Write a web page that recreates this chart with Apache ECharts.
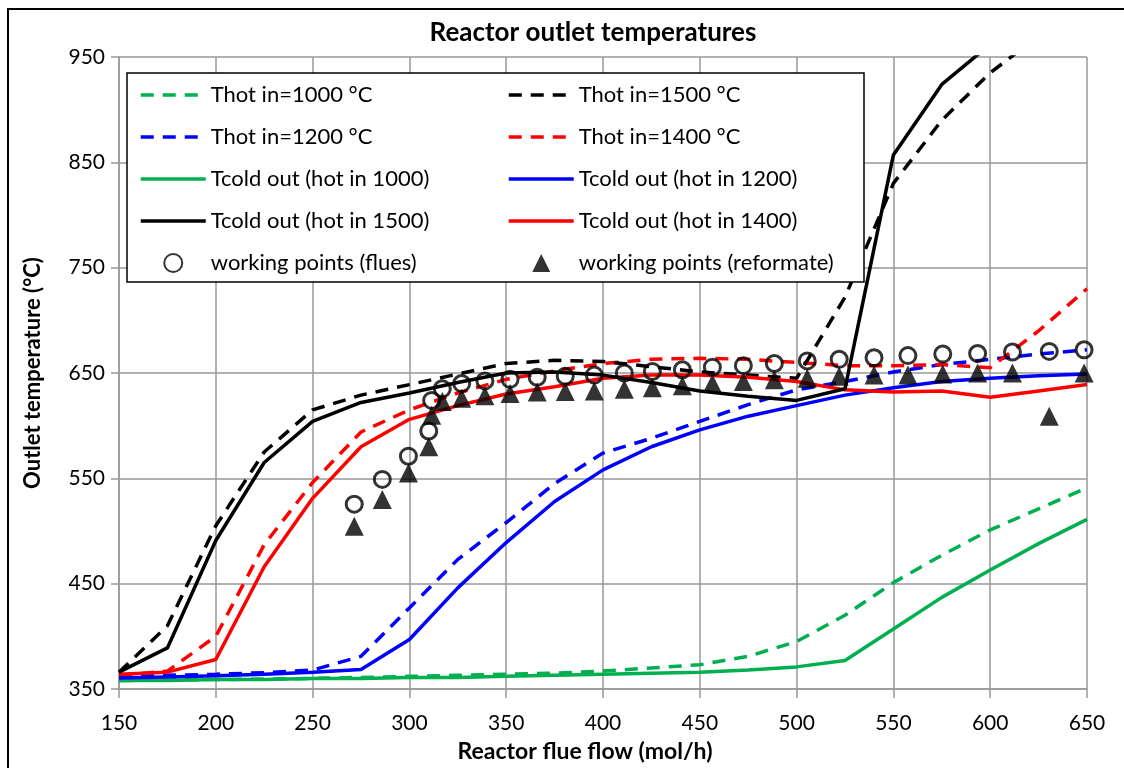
<!DOCTYPE html>
<html>
<head>
<meta charset="utf-8">
<script src="https://cdn.jsdelivr.net/npm/echarts@6/dist/echarts.min.js"></script>
<style>
html, body { margin: 0; padding: 0; background: #fff; }
#main { width: 1124px; height: 768px; }
</style>
</head>
<body>
<div id="main"></div>
<script>
// flue flow (mol/h) for the simulated curves
var flows = [150, 175, 200, 225, 250, 275, 300, 325, 350, 375, 400, 425, 450, 475, 500, 525, 550, 575, 600, 625, 650];

// Thot in (dashed)
var thot1000 = [358, 358.5, 359, 359.5, 360, 361, 362, 363, 364, 365, 367, 370, 373, 381, 395, 420, 451, 477, 501, 521, 541];
var thot1200 = [362, 363, 364, 365.5, 368, 381, 427, 473, 508, 545, 574, 588, 604, 620, 634, 642, 651, 658, 663, 668, 672];
var thot1400 = [363, 367, 400, 487, 546, 594, 615, 631, 644, 652, 659, 663, 664, 663, 660, 657, 657, 658, 655, 690, 730];
var thot1500 = [366, 410, 505, 575, 615, 629, 639, 649, 659, 662, 661, 656, 651, 648, 645, 722, 830, 890, 935, 970, null];

// Tcold out (solid)
var tcold1000 = [358, 358, 359, 359, 360, 360, 361, 361, 362, 363, 364, 365, 366, 368, 371, 377, 407, 437, 463, 488, 511];
var tcold1200 = [360.5, 361.5, 362.5, 364, 366, 368.5, 397, 446, 489, 528, 558, 580, 596, 609, 619, 629, 636, 642, 645, 647.5, 649];
var tcold1400 = [364, 366, 378, 466, 531, 580, 606, 619, 630, 637, 645, 648, 648, 646, 642, 634, 632, 633, 627, 633, 639];
var tcold1500 = [366, 389, 491, 565, 604, 622, 631, 641, 650, 651, 648, 641, 633, 628, 624, 635, 857, 924, 962, null, null];

// working points
var wpFlow = [271.5, 286, 299.5, 310, 311.5, 317, 327, 339, 352, 366, 380.5, 395.5, 411, 425.5, 441, 456.5, 472.5, 488.5, 505.5, 522, 540, 557.5, 575.5, 593.5, 611.5, 630.5, 648.5];
var wpFlues = [525.5, 549, 571, 595, 624, 635, 640, 642.5, 644, 646, 647, 648, 650, 651.5, 653, 655.5, 657, 659, 661.5, 663, 664.5, 666.5, 668, 668.5, 670, 670.5, 672];
var wpReformate = [504.5, 530, 555, 580, 610, 623, 626, 628.5, 630.5, 632, 632.5, 633, 634.5, 636, 638, 640, 642, 643.5, 645, 647, 648, 648, 649, 650, 650, 609, 650];

var GREEN = '#00B050', BLUE = '#0000FF', RED = '#FF0000', BLACK = '#000000';
var FONT = 'Lato';
var TRIANGLE = 'path://M0,-1L1,1L-1,1Z';

function pairs(xs, ys) {
    return xs.map(function (x, i) { return [x, ys[i]]; });
}

function lineSeries(name, ys, color, dashed) {
    return {
        name: name,
        type: 'line',
        data: pairs(flows, ys),
        symbol: 'none',
        connectNulls: false,
        clip: true,
        color: color,
        lineStyle: { color: color, width: 3.5, type: dashed ? [13, 9] : 'solid' },
        emphasis: { disabled: true },
        z: 2
    };
}

// legend entries: lines get no marker in the icon
function lineEntry(name) {
    return { name: name, itemStyle: { opacity: 0 } };
}

var chart = echarts.init(document.getElementById('main'));

var legendText = { fontFamily: FONT, fontSize: 22, color: '#000', lineHeight: 22 };

var option = {
    backgroundColor: '#fff',
    animation: false,
    title: {
        text: 'Reactor outlet temperatures',
        left: 588,
        textAlign: 'center',
        top: 15,
        textStyle: { fontFamily: FONT, fontWeight: 'bold', fontSize: 26, color: '#000' }
    },
    grid: { left: 119, right: 37, top: 57, bottom: 78.5 },
    xAxis: {
        type: 'value',
        min: 150, max: 650, interval: 50,
        name: 'Reactor flue flow (mol/h)',
        nameLocation: 'middle',
        nameGap: 51,
        nameTextStyle: { fontFamily: FONT, fontWeight: 'bold', fontSize: 23, color: '#000', padding: [0, 36, 0, 0] },
        axisLine: { show: true, lineStyle: { color: '#999', width: 1.5 } },
        axisTick: { show: true, inside: false, length: 9, lineStyle: { color: '#999', width: 1.5 } },
        axisLabel: { fontFamily: FONT, fontSize: 21, color: '#000', margin: 24 },
        splitLine: { show: true, lineStyle: { color: '#999', width: 1.5 } }
    },
    yAxis: {
        type: 'value',
        min: 350, max: 950, interval: 100,
        name: 'Outlet temperature (°C)',
        nameLocation: 'middle',
        nameGap: 75,
        nameTextStyle: { fontFamily: FONT, fontWeight: 'bold', fontSize: 22, color: '#000' },
        axisLine: { show: true, lineStyle: { color: '#999', width: 1.5 } },
        axisTick: { show: true, inside: false, length: 8, lineStyle: { color: '#999', width: 1.5 } },
        axisLabel: { fontFamily: FONT, fontSize: 21, color: '#000', margin: 14 },
        splitLine: { show: true, lineStyle: { color: '#999', width: 1.5 } }
    },
    legend: [{
        orient: 'vertical',
        left: 134, top: 79,
        itemWidth: 65, itemHeight: 18, itemGap: 20,
        symbolKeepAspect: true,
        lineStyle: { width: 3.5 },
        textStyle: legendText,
        selectedMode: false,
        data: [
            lineEntry('Thot in=1000 °C'),
            lineEntry('Thot in=1200 °C'),
            lineEntry('Tcold out (hot in 1000)'),
            lineEntry('Tcold out (hot in 1500)'),
            { name: 'working points (flues)' }
        ]
    }, {
        orient: 'vertical',
        left: 502, top: 79,
        itemWidth: 65, itemHeight: 18, itemGap: 20,
        symbolKeepAspect: true,
        lineStyle: { width: 3.5 },
        textStyle: legendText,
        selectedMode: false,
        data: [
            lineEntry('Thot in=1500 °C'),
            lineEntry('Thot in=1400 °C'),
            lineEntry('Tcold out (hot in 1200)'),
            lineEntry('Tcold out (hot in 1400)'),
            { name: 'working points (reformate)', icon: TRIANGLE }
        ]
    }],
    graphic: [{
        // legend box
        type: 'rect',
        z: 3,
        shape: { x: 127, y: 73, width: 737, height: 209 },
        style: { fill: '#fff', stroke: '#000', lineWidth: 1.5 }
    }, {
        // chart area border
        type: 'rect',
        z: 3,
        shape: { x: 8, y: 9, width: 1140, height: 800 },
        style: { fill: 'none', stroke: '#000', lineWidth: 2 }
    }],
    series: [
        lineSeries('Thot in=1000 °C', thot1000, GREEN, true),
        lineSeries('Thot in=1200 °C', thot1200, BLUE, true),
        lineSeries('Thot in=1400 °C', thot1400, RED, true),
        lineSeries('Thot in=1500 °C', thot1500, BLACK, true),
        lineSeries('Tcold out (hot in 1000)', tcold1000, GREEN, false),
        lineSeries('Tcold out (hot in 1200)', tcold1200, BLUE, false),
        lineSeries('Tcold out (hot in 1400)', tcold1400, RED, false),
        lineSeries('Tcold out (hot in 1500)', tcold1500, BLACK, false),
        {
            name: 'working points (flues)',
            type: 'scatter',
            data: pairs(wpFlow, wpFlues),
            symbol: 'circle',
            symbolSize: 16,
            itemStyle: { color: 'rgba(255,255,255,0)', borderColor: '#000', borderWidth: 3 },
            emphasis: { disabled: true },
            z: 3
        },
        {
            name: 'working points (reformate)',
            type: 'scatter',
            data: pairs(wpFlow, wpReformate),
            symbol: TRIANGLE,
            symbolSize: 19,
            symbolKeepAspect: true,
            itemStyle: { color: '#000' },
            emphasis: { disabled: true },
            z: 3
        }
    ]
};

chart.setOption(option);
</script>
</body>
</html>
